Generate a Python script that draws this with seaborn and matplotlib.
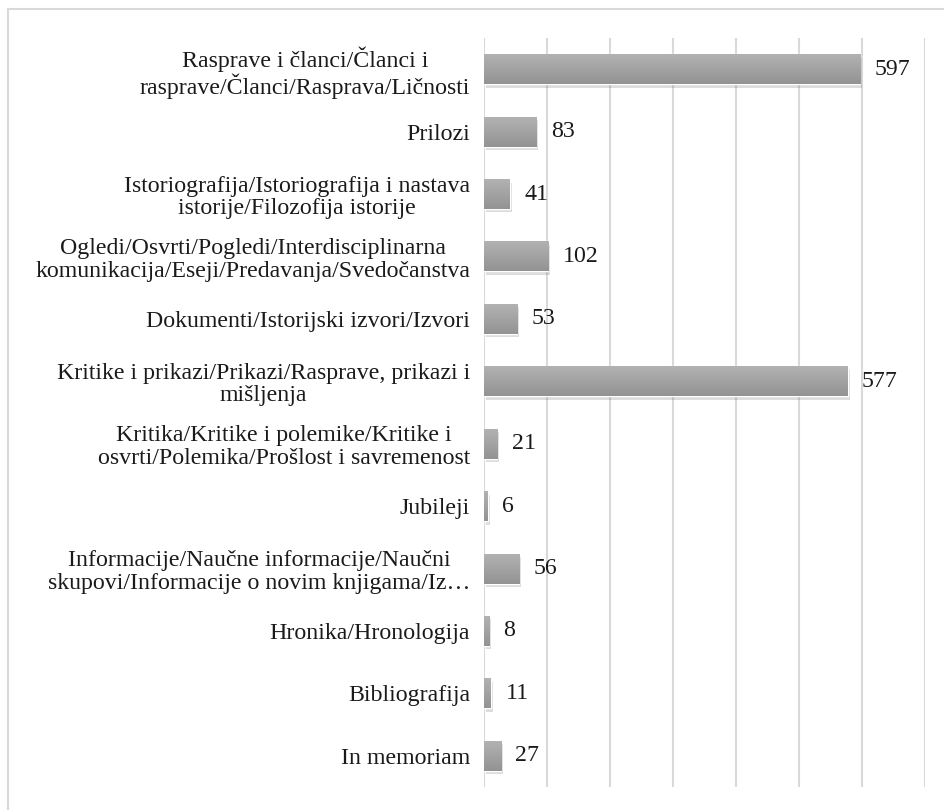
import numpy as np
import pandas as pd
import matplotlib
matplotlib.use("Agg")
import matplotlib.pyplot as plt
import matplotlib.patheffects as pe
from matplotlib.patches import Rectangle
import seaborn as sns

# data
categories = [
    "Rasprave i članci/Članci i\nrasprave/Članci/Rasprava/Ličnosti",
    "Prilozi",
    "Istoriografija/Istoriografija i nastava\nistorije/Filozofija istorije",
    "Ogledi/Osvrti/Pogledi/Interdisciplinarna\nkomunikacija/Eseji/Predavanja/Svedočanstva",
    "Dokumenti/Istorijski izvori/Izvori",
    "Kritike i prikazi/Prikazi/Rasprave, prikazi i\nmišljenja",
    "Kritika/Kritike i polemike/Kritike i\nosvrti/Polemika/Prošlost i savremenost",
    "Jubileji",
    "Informacije/Naučne informacije/Naučni\nskupovi/Informacije o novim knjigama/Iz…",
    "Hronika/Hronologija",
    "Bibliografija",
    "In memoriam",
]
counts = [597, 83, 41, 102, 53, 577, 21, 6, 56, 8, 11, 27]

df = pd.DataFrame({"category": categories, "count": counts})

sns.set_theme(style="white")
plt.rcParams["font.family"] = ["Liberation Serif", "DejaVu Serif"]

fig = plt.figure(figsize=(9.45, 8.1), dpi=100)
ax = fig.add_axes([484 / 945, 1 - 787 / 810, 441 / 945, 749 / 810])

sns.barplot(data=df, x="count", y="category", color="#a6a6a6",
            width=0.48, ax=ax, zorder=3)

# gradient + soft shadow on bars
cmap = matplotlib.colors.LinearSegmentedColormap.from_list("g", ["#b2b2b2", "#939393"])
grad = np.linspace(0, 1, 64).reshape(-1, 1)
for p in ax.patches:
    p.set_path_effects([pe.SimplePatchShadow(offset=(1.5, -2.5), alpha=0.18, shadow_rgbFace="#444444"),
                        pe.Normal()])
    x0, y0 = p.get_x(), p.get_y()
    w, h = p.get_width(), p.get_height()
    im = ax.imshow(grad, cmap=cmap, aspect="auto",
                   extent=[x0, x0 + w, y0 + h, y0], zorder=4, interpolation="bilinear")
    im.set_clip_path(p)

ax.set_xlim(0, 700)
ax.set_ylim(11.5, -0.5)
ax.set_xticks(np.arange(0, 701, 100))
ax.xaxis.grid(True, color="#d9d9d9", linewidth=1.5, zorder=0)
ax.tick_params(axis="x", labelbottom=False, length=0)
ax.tick_params(axis="y", length=0, pad=10)
for s in ax.spines.values():
    s.set_visible(False)
ax.set_xlabel("")
ax.set_ylabel("")
for lab in ax.get_yticklabels():
    lab.set_fontsize(17.2)
    lab.set_color("#1a1a1a")
    lab.set_multialignment("center")
    lab.set_linespacing(1.1)

for i, v in enumerate(counts):
    ax.text(v + 23, i, str(v), va="center", ha="left", fontsize=17.2, color="#1a1a1a")

# figure border
fig.patches.append(Rectangle((8 / 945, -0.05), 1.1, 1 - 9 / 810 + 0.05,
                             transform=fig.transFigure, fill=False,
                             edgecolor="#d9d9d9", linewidth=1.5))

fig.savefig("out.png", dpi=100)
